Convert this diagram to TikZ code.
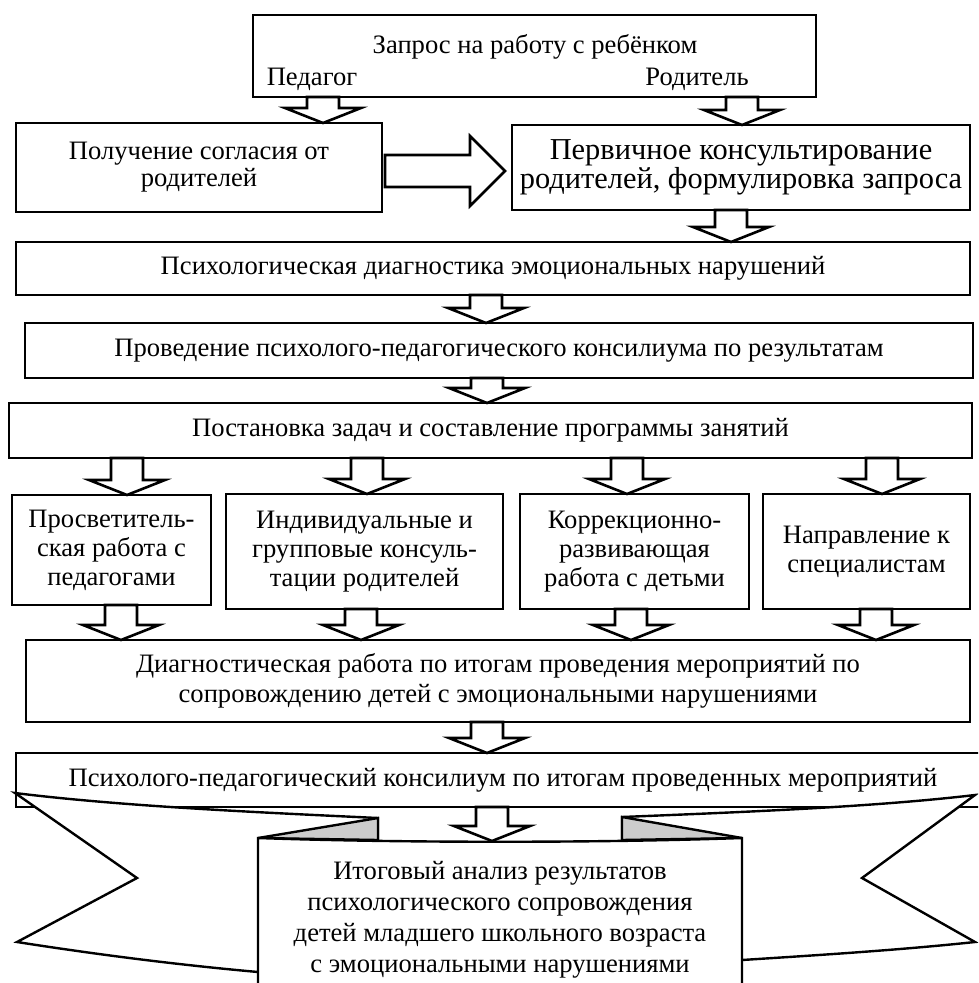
\documentclass[tikz,border=0pt]{standalone}
\usepackage{fontspec}
\setmainfont{Liberation Serif}
\usetikzlibrary{calc}
\tikzset{
  box/.style={draw, line width=1.3pt, fill=white, inner sep=0pt, outer sep=0pt, align=center, font=\fontsize{13.3}{15}\selectfont},
  lbl/.style={inner sep=0pt, font=\fontsize{13.3}{15}\selectfont},
  barrow/.style={draw, line width=1.3pt, fill=white, line join=miter},
  rib/.style={draw, line width=1.2pt, fill=white, line join=miter},
  fold/.style={draw, line width=1.2pt, fill=gray!40, line join=miter},
}
\newcommand\DArr[3]{%
  \draw[barrow] let \p1=#1, \p2=#2, \p3=(#3,0) in
    (\x3-8pt,\y1) -- (\x3-8pt,\y2+7.5pt) -- (\x3-19pt,\y2+7.5pt) -- (\x3,\y2)
    -- (\x3+19pt,\y2+7.5pt) -- (\x3+8pt,\y2+7.5pt) -- (\x3+8pt,\y1) -- cycle;}
\begin{document}
\begin{tikzpicture}[x=0.5pt,y=-0.5pt]
\useasboundingbox (0,0) rectangle (978,983);
\clip (0,0) rectangle (978,983);

% top request box
\node[box, minimum width=281.5pt, minimum height=41pt] (req) at (534.5,56) {};
\node[lbl] (reqt) at (535,47) {Запрос на работу с ребёнком};
\node[lbl] (ped) at (312,79) {Педагог};
\node[lbl] (rod) at (697,79) {Родитель};

% second row
\node[box, minimum width=183pt, minimum height=44.5pt, font=\fontsize{13.3}{13.5}\selectfont] (agree) at (199,167.5) {Получение согласия от\\родителей};
\node[box, minimum width=229pt, minimum height=42.5pt, font=\fontsize{15.2}{13.5}\selectfont] (prim) at (741,167.5) {Первичное консультирование\\родителей, формулировка запроса};

% full-width boxes
\node[box, minimum width=477pt, minimum height=26.5pt] (diag) at (493,268.5) {Психологическая диагностика эмоциональных нарушений};
\node[box, minimum width=474pt, minimum height=27.5pt] (ppk) at (499,350.5) {Проведение психолого-педагогического консилиума по результатам};
\node[box, minimum width=481.5pt, minimum height=27.5pt] (plan) at (490.5,430.5) {Постановка задач и составление программы занятий};

% four boxes
\node[box, minimum width=99.5pt, minimum height=55pt, font=\fontsize{13.3}{14.5}\selectfont] (ba) at (111.5,550) {Просветитель-\\ская работа с\\педагогами};
\node[box, minimum width=138.5pt, minimum height=57.5pt, font=\fontsize{13.3}{14.5}\selectfont] (bb) at (364.5,551.5) {Индивидуальные и\\групповые консуль-\\тации родителей};
\node[box, minimum width=114.5pt, minimum height=57.5pt, font=\fontsize{13.3}{14.5}\selectfont] (bc) at (634.5,551.5) {Коррекционно-\\развивающая\\работа с детьми};
\node[box, minimum width=103.5pt, minimum height=57.5pt, font=\fontsize{13.3}{14.5}\selectfont] (bd) at (866.5,551.5) {Направление к\\специалистам};

\node[box, minimum width=472pt, minimum height=41pt] (fin) at (498,681) {Диагностическая работа по итогам проведения мероприятий по\\сопровождению детей с эмоциональными нарушениями};

\node[box, minimum width=487pt, minimum height=27pt] (cons) at (503,780) {Психолого-педагогический консилиум по итогам проведенных мероприятий};

% ribbon
\draw[rib] (15,793) .. controls (120,806) and (250,812) .. (378,818) -- (378,860) -- (258,972) .. controls (180,965) and (100,955) .. (17,942) -- (137,878) -- cycle;
\draw[rib] (975,795) .. controls (873,807) and (745,812) .. (622,817) -- (622,860) -- (742,960) .. controls (820,955) and (900,950) .. (975,942) -- (862,878) -- cycle;
\draw[fold] (378,818) -- (258,838) -- (378,840) -- cycle;
\draw[fold] (622,817) -- (742,838) -- (622,840) -- cycle;
\draw[rib] (258,1010) -- (258,838) .. controls (400,843) and (600,843) .. (742,838) -- (742,1010);
\coordinate (ptop) at (492,841);
\node[lbl, align=center, font=\fontsize{13.3}{15.5}\selectfont] (res) at (500,920) {Итоговый анализ результатов\\психологического сопровождения\\детей младшего школьного возраста\\с эмоциональными нарушениями};

% block arrows
\DArr{(req.south)}{(agree.north)}{323}
\DArr{(req.south)}{(prim.north)}{742}
\DArr{(prim.south)}{(diag.north)}{731}
\DArr{(diag.south)}{(ppk.north)}{486}
\DArr{(ppk.south)}{(plan.north)}{487}
\DArr{(plan.south)}{(ba.north)}{127}
\DArr{(plan.south)}{(bb.north)}{367}
\DArr{(plan.south)}{(bc.north)}{627}
\DArr{(plan.south)}{(bd.north)}{882}
\DArr{(ba.south)}{(fin.north)}{121}
\DArr{(bb.south)}{(fin.north)}{361}
\DArr{(bc.south)}{(fin.north)}{631}
\DArr{(bd.south)}{(fin.north)}{876}
\DArr{(fin.south)}{(cons.north)}{487}
\DArr{(cons.south)}{(ptop)}{492}

% big right arrow
\draw[barrow] let \p1=(agree.east), \p2=(prim.west), \p3=(0,171) in
  (\x1+1.5pt,\y3+8pt) -- (\x2-21pt,\y3+8pt) -- (\x2-21pt,\y3+17.5pt) -- (\x2-3.5pt,\y3)
  -- (\x2-21pt,\y3-17.5pt) -- (\x2-21pt,\y3-8pt) -- (\x1+1.5pt,\y3-8pt) -- cycle;
\end{tikzpicture}
\end{document}
